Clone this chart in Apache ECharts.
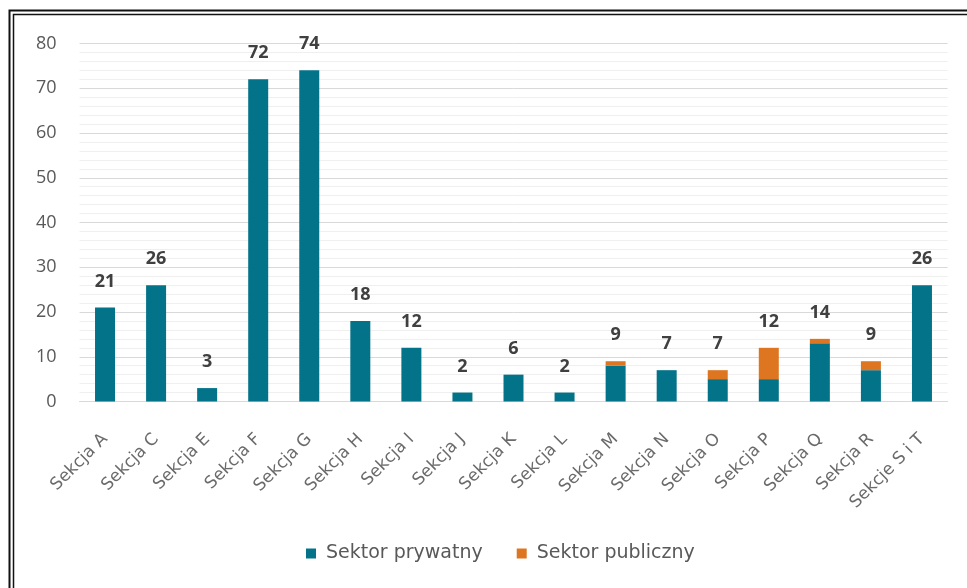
<!DOCTYPE html>
<html>
<head>
<meta charset="utf-8">
<script src="https://cdn.jsdelivr.net/npm/echarts@6/dist/echarts.min.js"></script>
<style>
html,body{margin:0;padding:0;background:#fff;}
#chart{width:967px;height:588px;}
</style>
</head>
<body>
<div id="chart"></div>
<script>
const categories = ['Sekcja A','Sekcja C','Sekcja E','Sekcja F','Sekcja G','Sekcja H','Sekcja I','Sekcja J','Sekcja K','Sekcja L','Sekcja M','Sekcja N','Sekcja O','Sekcja P','Sekcja Q','Sekcja R','Sekcje S i T'];
const privateSector = [21, 26, 3, 72, 74, 18, 12, 2, 6, 2, 8, 7, 5, 5, 13, 7, 26];
const publicSector  = [0, 0, 0, 0, 0, 0, 0, 0, 0, 0, 1, 0, 2, 7, 1, 2, 0];
const totals        = [21, 26, 3, 72, 74, 18, 12, 2, 6, 2, 9, 7, 7, 12, 14, 9, 26];
const yTicks = {min: 0, max: 80, interval: 10};

const chart = echarts.init(document.getElementById('chart'), null, {renderer: 'canvas'});
chart.setOption({
  animation: false,
  backgroundColor: '#fff',
  grid: {left: 79.5, top: 43.5, width: 868, height: 358, containLabel: false},
  legend: {
    data: ['Sektor prywatny', 'Sektor publiczny'],
    left: 301, top: 539,
    itemWidth: 10, itemHeight: 10, itemGap: 34,
    icon: 'rect',
    textStyle: {fontFamily: 'DejaVu Sans', fontSize: 19, color: '#595959', padding: [0,0,0,5]}
  },
  xAxis: {
    type: 'category',
    data: categories,
    axisLine: {show: true, lineStyle: {color: '#D9D9D9', width: 1}},
    axisTick: {show: false},
    axisLabel: {rotate: 45, interval: 0, margin: 35, fontFamily: 'DejaVu Sans', fontSize: 17, color: '#6A6A6A'}
  },
  yAxis: {
    type: 'value',
    min: yTicks.min, max: yTicks.max, interval: yTicks.interval,
    axisLine: {show: false},
    axisTick: {show: false},
    axisLabel: {margin: 23, fontFamily: 'Open Sans', fontSize: 18, color: '#595959'},
    splitLine: {show: true, lineStyle: {color: '#D9D9D9', width: 1}},
    minorTick: {show: false, splitNumber: 5},
    minorSplitLine: {show: true, lineStyle: {color: '#EFEFEF', width: 1}}
  },
  series: [
    {
      name: 'Sektor prywatny', type: 'bar', stack: 'a', data: privateSector,
      barWidth: 20, itemStyle: {color: '#03738A'}
    },
    {
      name: 'Sektor publiczny', type: 'bar', stack: 'a', data: publicSector,
      barWidth: 20, itemStyle: {color: '#DE7621'}
    },
    {
      name: 'total', type: 'bar', data: totals, barWidth: 20, barGap: '-100%',
      itemStyle: {color: 'rgba(0,0,0,0)'}, z: 1, silent: true,
      label: {show: true, position: 'top', distance: 17, fontFamily: 'Open Sans', fontWeight: 'bold', fontSize: 18, color: '#404040'}
    }
  ],
  graphic: [
    {type: 'rect', shape: {x: 9.5, y: 10.5, width: 2000, height: 2000}, style: {fill: 'none', stroke: '#111', lineWidth: 2}, silent: true},
    {type: 'rect', shape: {x: 13.5, y: 14.5, width: 2000, height: 2000}, style: {fill: 'none', stroke: '#111', lineWidth: 1.5}, silent: true}
  ]
});
</script>
</body>
</html>
